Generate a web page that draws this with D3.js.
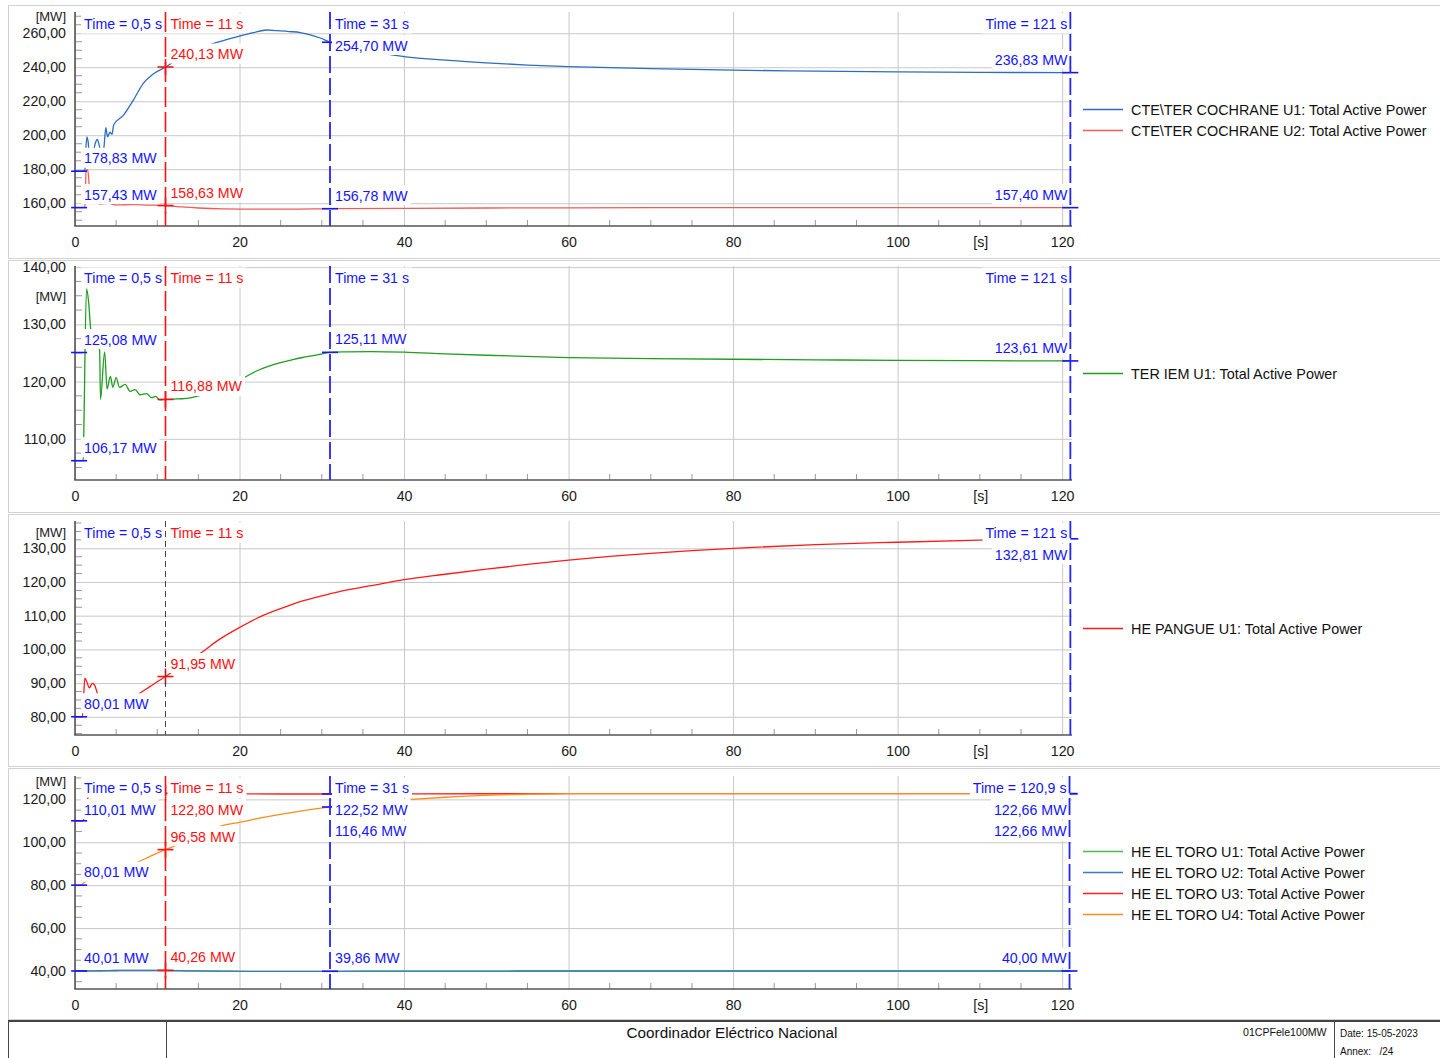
<!DOCTYPE html>
<html><head><meta charset="utf-8">
<script src="https://cdn.jsdelivr.net/npm/d3@7"></script>
<style>
body{margin:0;background:#fff;}
svg{display:block;font-family:"Liberation Sans",Arial,sans-serif;}
</style></head><body>
<svg id="c" width="1440" height="1058"></svg>
<script>
// ---------------- DATA ----------------
const xTicks = [0, 20, 40, 60, 80, 100, 120];

// Panel 1
const p1YTicks = [160, 180, 200, 220, 240, 260];
const cochraneU1 = [[0,178.83],[1.2,178.83],[1.3,190],[1.45,199],[1.6,196],[1.8,186],[2.1,187],[2.45,195],[2.7,197.5],[2.95,194],[3.2,188],[3.5,192],[3.75,204.5],[3.95,199],[4.25,201.8],[4.5,200.5],[4.7,206],[5.9,211.8],[7.1,220.7],[8.3,230.5],[9.5,236],[11,240.13],[12,243.2],[13,246.1],[14,248.7],[15,250.9],[16,252.7],[17,254.2],[18.5,256.4],[20,258.3],[21.7,260.3],[23.3,261.9],[24.5,261.5],[26,261],[27.4,260.4],[28.7,258.9],[29.8,257.2],[31,254.7],[33,251.8],[35,249.8],[37,248.3],[40,246.3],[45,244.2],[50,242.6],[55,241.3],[60,240.4],[70,239.2],[80,238.3],[90,237.7],[100,237.3],[110,237.0],[121,236.83]];
const cochraneU2 = [[0,157.43],[1.2,157.43],[1.35,179.5],[1.55,179.8],[1.75,169],[2.0,160],[2.5,163],[3,159.5],[4,160],[5,159],[7,159.2],[9,158.9],[11,158.63],[13,157.8],[15,157.2],[18,156.7],[22,156.5],[26,156.5],[31,156.78],[40,157.0],[50,157.2],[60,157.3],[80,157.38],[121,157.40]];
const p1Legend = ["CTE\\TER COCHRANE U1: Total Active Power", "CTE\\TER COCHRANE U2: Total Active Power"];
const p1CursorTimes = [0.5, 11, 31, 121];
const p1CursorValues = [[178.83, 157.43], [240.13, 158.63], [254.70, 156.78], [236.83, 157.40]];

// Panel 2
const p2YTicks = [110, 120, 130, 140];
const iemU1 = [[0,106.17],[1.0,106.17],[1.05,109.5],[1.4,136.2],[1.65,134],[1.9,129.3],[2.2,127.2],[2.6,126.8],[2.95,126],[3.0,125.2],[3.1,116.9],[3.6,125.2],[3.9,118.7],[4.3,120.9],[4.6,119.0],[5.0,120.7],[5.4,119.0],[6.1,119.5],[6.7,118.3],[7.3,118.6],[7.9,117.7],[8.7,117.9],[9.3,117.2],[9.8,117.4],[10.3,116.8],[11,116.88],[12,116.95],[13,117.0],[14,117.15],[15.5,117.7],[17,118.5],[18.5,119.5],[20,120.3],[20.7,120.8],[22,121.8],[23.4,122.6],[25,123.3],[26.6,123.9],[28,124.3],[29.9,124.8],[31,125.11],[33,125.2],[36,125.25],[40,125.15],[45,124.85],[50,124.6],[60,124.2],[70,124.0],[80,123.9],[90,123.8],[100,123.7],[110,123.65],[121,123.61]];
const p2Legend = ["TER IEM U1: Total Active Power"];
const p2CursorTimes = [0.5, 11, 31, 121];
const p2CursorValues = [[125.08, 106.17], [116.88], [125.11], [123.61]];

// Panel 3
const p3YTicks = [80, 90, 100, 110, 120, 130];
const pangueU1 = [[0,80.01],[0.9,80.01],[1.05,86],[1.2,91.5],[1.4,90.6],[1.75,88.6],[2.1,89.9],[2.4,89.3],[2.75,86.8],[3.2,85.6],[4.5,85.3],[6,85.8],[7,86.1],[7.8,86.9],[9,88.8],[10,90.4],[11,91.95],[12,93.6],[13,95.3],[14,97],[15.2,98.8],[17.5,102.9],[20,106.5],[22,109.1],[24,111.2],[26,113],[28,114.6],[30,115.9],[32,117.1],[36,118.9],[40,120.7],[45,122.3],[50,123.8],[55,125.2],[60,126.5],[65,127.6],[70,128.5],[75,129.3],[80,130],[90,131.1],[100,131.8],[110,132.4],[121,132.81]];
const p3Legend = ["HE PANGUE U1: Total Active Power"];
const p3CursorTimes = [0.5, 11, 121];
const p3CursorValues = [[80.01], [91.95], [132.81]];

// Panel 4
const p4YTicks = [40, 60, 80, 100, 120];
const toroU1 = [[0,40.01],[1,40.01],[3,40.1],[5,40.22],[7,40.3],[9,40.3],[11,40.26],[13,40.15],[15,40.02],[18,39.9],[21,39.84],[25,39.82],[31,39.86],[40,39.93],[50,39.97],[60,39.99],[80,40.0],[121,40.0]];
const toroU2 = [[0,40.01],[1,40.01],[3,40.1],[5,40.22],[7,40.3],[9,40.3],[11,40.26],[13,40.15],[15,40.02],[18,39.9],[21,39.84],[25,39.82],[31,39.86],[40,39.93],[50,39.97],[60,39.99],[80,40.0],[121,40.0]];
const toroU3 = [[0,110.01],[1.0,110.01],[1.3,116],[1.6,121],[2,122.9],[3,123.2],[5,123.05],[8,122.9],[11,122.8],[15,122.65],[20,122.55],[25,122.5],[31,122.52],[40,122.58],[50,122.62],[60,122.64],[80,122.65],[121,122.66]];
const toroU4 = [[0,80.01],[0.8,80.01],[1,81],[2,82.8],[3,84.4],[4,85.8],[5,87.2],[6,88.5],[7,89.9],[8,91.4],[9,93.2],[10,94.9],[11,96.58],[12,98.1],[13,99.6],[15,102.6],[18,107.9],[20,109.3],[22,110.9],[25,113.0],[28,114.9],[31,116.46],[35,118.3],[40,119.8],[45,121],[50,121.9],[55,122.4],[60,122.66],[121,122.66]];
const p4Legend = ["HE EL TORO U1: Total Active Power", "HE EL TORO U2: Total Active Power", "HE EL TORO U3: Total Active Power", "HE EL TORO U4: Total Active Power"];
const p4CursorTimes = [0.5, 11, 31, 120.9];
const p4CursorValues = [[110.01, 80.01, 40.01], [122.80, 96.58, 40.26], [122.52, 116.46, 39.86], [122.66, 122.66, 40.00]];

// ---------------- STYLE / LAYOUT ----------------
const BLUE = "#1414ff", RED = "#ff1010";
const cursorStyles = {
  none: {line: null, color: BLUE},
  red:  {line: RED, dash: "20,5", width: 1.6, color: RED, cross: true},
  gray: {line: "#444", dash: "6,4", width: 1, color: RED, cross: true},
  blue: {line: "#2424ff", dash: "17,5", width: 1.8, color: BLUE}
};

const panels = [
  {top: 12, bottom: 226, domain: [146.6, 272.5], ticks: p1YTicks, minor: 5, frame: [5, 258], mwY: 21,
   series: [{d: cochraneU1, c: "#2a6ebf"}, {d: cochraneU2, c: "#f25a5a"}], legend: p1Legend,
   cursorTimes: p1CursorTimes, cursorValues: p1CursorValues, cstyle: ["none", "red", "blue", "blue"]},
  {top: 266, bottom: 480, domain: [102.8, 140.2], ticks: p2YTicks, minor: 2.5, frame: [260, 512], mwY: 301,
   series: [{d: iemU1, c: "#1f9e1f"}], legend: p2Legend,
   cursorTimes: p2CursorTimes, cursorValues: p2CursorValues, cstyle: ["none", "red", "blue", "blue"]},
  {top: 521, bottom: 735, domain: [74.6, 138.1], ticks: p3YTicks, minor: 2.5, frame: [514, 766], mwY: 537,
   series: [{d: pangueU1, c: "#ff1a1a"}], legend: p3Legend,
   cursorTimes: p3CursorTimes, cursorValues: p3CursorValues, cstyle: ["none", "gray", "blue"]},
  {top: 776, bottom: 989, domain: [31.6, 130.9], ticks: p4YTicks, minor: 5, frame: [768, 1019], mwY: 786,
   series: [{d: toroU1, c: "#4cbb4c"}, {d: toroU2, c: "#3b78c8"}, {d: toroU3, c: "#ff2020"}, {d: toroU4, c: "#ff8c1a"}], legend: p4Legend,
   cursorTimes: p4CursorTimes, cursorValues: p4CursorValues, cstyle: ["none", "red", "blue", "blue"]}
];

const svg = d3.select("#c");
const X0 = 75, X1 = 1072;
const x = d3.scaleLinear().domain([0, 121.2]).range([X0, X1]);
const fmt2 = v => d3.format(".2f")(v).replace(".", ",");
const fmtT = t => String(t).replace(".", ",");
const FONT = "'Liberation Sans', Arial, sans-serif";

panels.forEach(p => {
  const y = d3.scaleLinear().domain(p.domain).range([p.bottom, p.top]);
  svg.append("rect").attr("x", 8.5).attr("y", p.frame[0] + 0.5).attr("width", 1440).attr("height", p.frame[1] - p.frame[0])
    .attr("fill", "none").attr("stroke", "#d2d2d2").attr("stroke-width", 1);

  const gGrid = svg.append("g"), gCurves = svg.append("g"), gMarks = svg.append("g"),
        gBoxes = svg.append("g"), gCur = svg.append("g"), gText = svg.append("g");

  const ya = gGrid.append("g").attr("transform", `translate(${X0},0)`)
    .call(d3.axisLeft(y).tickValues(p.ticks).tickSize(-(X1 - X0)).tickPadding(9).tickFormat(fmt2));
  ya.select(".domain").remove();
  ya.attr("font-size", 14.2).attr("font-family", FONT);
  ya.selectAll("line").attr("stroke", "#c8c8c8");
  ya.selectAll("text").attr("fill", "#1a1a1a");

  const xa = gGrid.append("g").attr("transform", `translate(0,${p.bottom})`)
    .call(d3.axisBottom(x).tickValues(xTicks).tickSize(-(p.bottom - p.top)).tickPadding(11).tickFormat(d3.format("d")));
  xa.select(".domain").remove();
  xa.attr("font-size", 14.2).attr("font-family", FONT);
  xa.selectAll("line").attr("stroke", "#c8c8c8");
  xa.selectAll("text").attr("fill", "#1a1a1a");
  gGrid.append("text").attr("x", x(110.1)).attr("y", p.bottom + 11).attr("dy", "0.71em").attr("text-anchor", "middle")
    .attr("font-size", 14.2).attr("fill", "#1a1a1a").text("[s]");

  const minX = d3.range(5, 121, 5).filter(v => v % 20 !== 0);
  gGrid.selectAll(null).data(minX).join("line")
    .attr("x1", d => x(d)).attr("x2", d => x(d)).attr("y1", p.bottom).attr("y2", p.bottom - 6)
    .attr("stroke", "#999").attr("stroke-width", 1);
  const minY = d3.range(Math.ceil(p.domain[0] / p.minor) * p.minor, p.domain[1], p.minor).filter(v => !p.ticks.includes(v));
  gGrid.selectAll(null).data(minY).join("line")
    .attr("x1", X0).attr("x2", X0 + 7).attr("y1", d => y(d)).attr("y2", d => y(d))
    .attr("stroke", "#999").attr("stroke-width", 1);

  gGrid.append("line").attr("x1", X0).attr("x2", X0).attr("y1", p.top).attr("y2", p.bottom).attr("stroke", "#555").attr("stroke-width", 1.6);
  gGrid.append("line").attr("x1", X0 - 0.8).attr("x2", X1).attr("y1", p.bottom).attr("y2", p.bottom).attr("stroke", "#555").attr("stroke-width", 1.6);
  gGrid.append("text").attr("x", 66).attr("y", p.mwY).attr("text-anchor", "end").attr("font-size", 13).attr("fill", "#1a1a1a").text("[MW]");

  const line = d3.line().x(d => x(d[0])).y(d => y(d[1])).curve(d3.curveMonotoneX);
  p.series.forEach(s => {
    gCurves.append("path").attr("d", line(s.d)).attr("fill", "none").attr("stroke", s.c).attr("stroke-width", 1.3);
  });

  const n = p.legend.length, mid = (p.top + p.bottom) / 2;
  p.legend.forEach((lab, i) => {
    const ly = Math.round(mid + (i - (n - 1) / 2) * 21) + 0.5;
    svg.append("line").attr("x1", 1083).attr("x2", 1123).attr("y1", ly).attr("y2", ly).attr("stroke", p.series[i].c).attr("stroke-width", 1.3);
    svg.append("text").attr("x", 1131).attr("y", ly + 5).attr("font-size", 14.4).attr("fill", "#111").text(lab);
  });

  p.cursorTimes.forEach((t, ci) => {
    const st = cursorStyles[p.cstyle[ci]];
    const cx = x(t);
    const isLast = ci === p.cursorTimes.length - 1;
    if (st.line) {
      gCur.append("line").attr("x1", cx).attr("x2", cx).attr("y1", p.top).attr("y2", p.bottom)
        .attr("stroke", st.line).attr("stroke-width", st.width).attr("stroke-dasharray", st.dash);
    }
    const timeBase = p.top + 17;
    const labels = [{text: "Time = " + fmtT(t) + " s", b: timeBase}];
    let prev = timeBase;
    const vals = p.cursorValues[ci].slice().sort((a, b) => b - a);
    vals.forEach(v => {
      const b = Math.max(y(v) - 8, prev + 21.5);
      labels.push({text: fmt2(v) + " MW", b: b});
      prev = b;
      gMarks.append("line").attr("x1", cx - 8).attr("x2", cx + 8).attr("y1", y(v)).attr("y2", y(v))
        .attr("stroke", st.color).attr("stroke-width", 1.6);
      if (st.cross) {
        gMarks.append("line").attr("x1", cx).attr("x2", cx).attr("y1", y(v) - 8).attr("y2", y(v) + 8)
          .attr("stroke", st.color).attr("stroke-width", 1.6);
      }
    });
    labels.forEach(l => {
      const tx = isLast ? cx - 3 : cx + 5;
      const te = gText.append("text").attr("x", tx).attr("y", l.b).attr("font-size", 14.2)
        .attr("text-anchor", isLast ? "end" : "start").attr("fill", st.color).text(l.text);
      const w = te.node().getComputedTextLength();
      const left = isLast ? tx - w : tx;
      gBoxes.append("rect").attr("x", left - 3).attr("y", l.b - 15.5).attr("width", w + 6).attr("height", 20).attr("fill", "#fff");
    });
  });
});

// ---------------- FOOTER ----------------
svg.append("line").attr("x1", 8).attr("x2", 1440).attr("y1", 1021).attr("y2", 1021).attr("stroke", "#444").attr("stroke-width", 2);
[8.5, 166.5, 1334.5].forEach(vx => {
  svg.append("line").attr("x1", vx).attr("x2", vx).attr("y1", 1021).attr("y2", 1058).attr("stroke", "#444").attr("stroke-width", 1);
});
svg.append("text").attr("x", 732).attr("y", 1038).attr("text-anchor", "middle").attr("font-size", 15.3).attr("fill", "#111").text("Coordinador Eléctrico Nacional");
svg.append("text").attr("x", 1243).attr("y", 1036).attr("font-size", 10.6).attr("fill", "#111").text("01CPFele100MW");
svg.append("text").attr("x", 1340).attr("y", 1037).attr("font-size", 10).attr("fill", "#111").text("Date: 15-05-2023");
svg.append("text").attr("x", 1340).attr("y", 1055).attr("font-size", 10).attr("fill", "#111").text("Annex:\u00a0\u00a0\u00a0/24");
</script>
</body></html>
